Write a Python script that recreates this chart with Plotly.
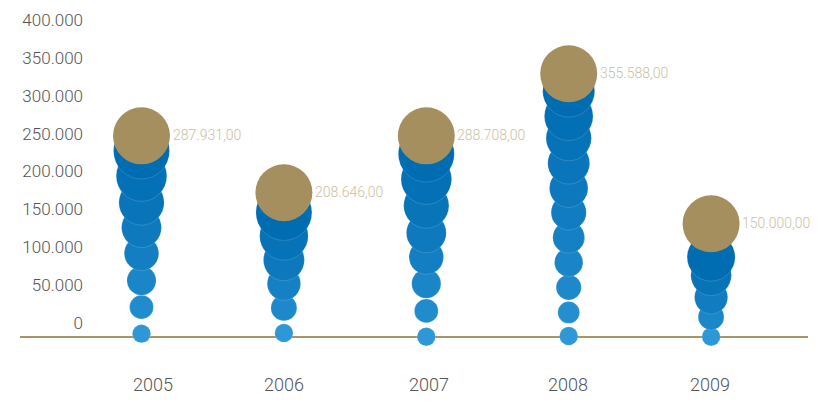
import plotly.graph_objects as go

# ---------------- data ----------------
years = ["2005", "2006", "2007", "2008", "2009"]
totals = [287931.00, 208646.00, 288708.00, 355588.00, 150000.00]

# centres of the stacked blue bubbles (value units), bottom to top
stack_2005 = [-14000, 21000, 56000, 92000, 126000, 159000, 194000, 227000]
stack_2006 = [-13000, 20000, 52000, 83000, 115000, 146000]
stack_2007 = [-18000, 16000, 52000, 87000, 119000, 155000, 190000, 223000]
stack_2008 = [-17000, 14000, 47000, 80000, 113000, 146000, 178000, 211000,
              244000, 273000, 306000]
stack_2009 = [-18000, 8000, 34000, 63000, 87000]
stacks = [stack_2005, stack_2006, stack_2007, stack_2008, stack_2009]

# centre of the gold top bubble (value units)
top_y = [247000, 172000, 247000, 329000, 131000]

y_ticks = [0, 50000, 100000, 150000, 200000, 250000, 300000, 350000, 400000]

# ---------------- style ----------------
FONT = "Roboto"
light = (46, 152, 215)
dark = (0, 108, 178)
GOLD = "#a58f5f"
GOLD_TEXT = "#cbbf9f"
top_radius = [28, 28, 28, 26, 24]
year_label_shift = [11, 0, 3, -1, -1]


def mix(f):
    f = f ** 0.65
    c = [round(light[k] + (dark[k] - light[k]) * f) for k in range(3)]
    return f"rgb({c[0]},{c[1]},{c[2]})"


def fmt(v):
    s = f"{v:,.2f}"
    return s.replace(",", "X").replace(".", ",").replace("X", ".")


fig = go.Figure()

for yr, stack, rt in zip(years, stacks, top_radius):
    n = len(stack)
    fr = [i / (n - 1) for i in range(n)]
    sizes = [2 * (9.2 + (rt - 9.2) * f) for f in fr]
    colors = [mix(f) for f in fr]
    fig.add_trace(go.Scatter(
        x=[yr] * n, y=stack, mode="markers", cliponaxis=False,
        marker=dict(size=sizes, color=colors, opacity=1,
                    line=dict(width=0.6, color="rgba(255,255,255,0.25)")),
        hoverinfo="skip", showlegend=False))

fig.add_trace(go.Scatter(
    x=years, y=top_y, mode="markers", cliponaxis=False,
    marker=dict(size=57, color=GOLD, line=dict(width=0)),
    hoverinfo="skip", showlegend=False))

annotations = [dict(x=i, y=yv, xref="x", yref="y", text=fmt(tv),
                    showarrow=False, xanchor="left", yanchor="middle",
                    xshift=29, yshift=1,
                    font=dict(family=FONT, size=14, color=GOLD_TEXT, weight=300))
               for i, (yv, tv) in enumerate(zip(top_y, totals))]
annotations += [dict(x=i, y=0, xref="x", yref="paper", text=yr,
                     showarrow=False, xanchor="center", yanchor="middle",
                     xshift=sh, yshift=-47,
                     font=dict(family=FONT, size=18, color="#555555", weight=300))
                for i, (yr, sh) in enumerate(zip(years, year_label_shift))]

L, R, T, B = 84, 12, 10, 67
plot_w = 820 - L - R
unit = 142.4
a = -(141.5 - L) / unit
b = a + plot_w / unit

fig.update_layout(
    width=820, height=404,
    margin=dict(l=L, r=R, t=T, b=B),
    paper_bgcolor="white", plot_bgcolor="white",
    separators=",.",
    font=dict(family=FONT, color="#555555"),
    xaxis=dict(type="category", range=[a, b], showgrid=False, zeroline=False,
               showline=False, ticks="", showticklabels=False),
    yaxis=dict(range=[-18400, 410450], tickvals=y_ticks, tickformat=",d",
               showgrid=False, zeroline=False, showline=False, ticks="",
               tickfont=dict(family=FONT, size=17, color="#555555", weight=300)),
    shapes=[dict(type="line", xref="paper", yref="paper",
                 x0=(20 - L) / plot_w, x1=1.0, y0=0, y1=0,
                 line=dict(color="#a89467", width=2), layer="below")],
    annotations=annotations,
)

fig.write_html("out.html", config={"displayModeBar": False},
               post_script="document.body.style.margin='0';")
